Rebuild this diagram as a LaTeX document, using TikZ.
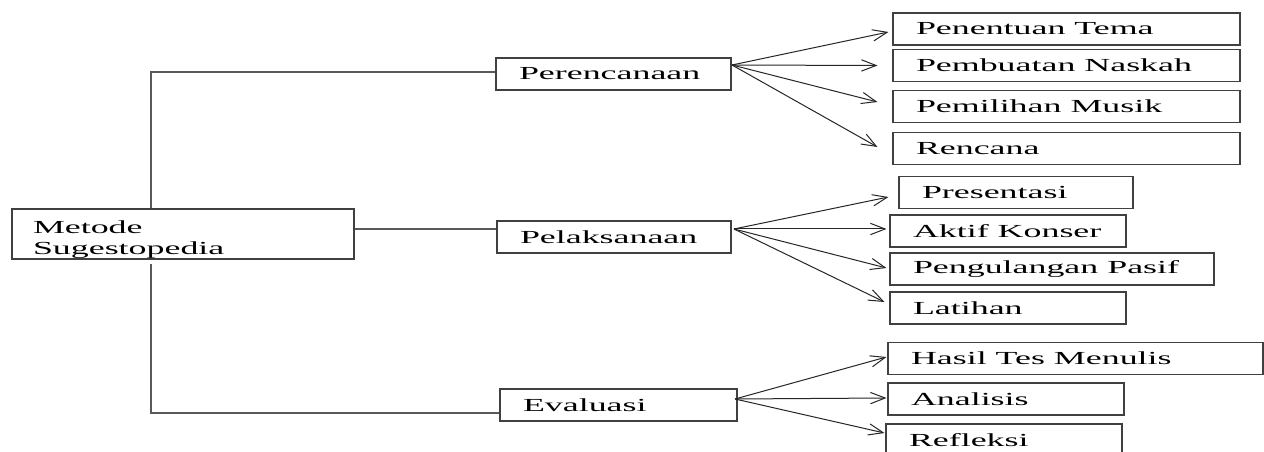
\documentclass[tikz,border=0pt]{standalone}
\usepackage{fontspec}
\setmainfont{Liberation Serif}[FakeStretch=1.95]
\usetikzlibrary{arrows.meta,calc}
\begin{document}
\begin{tikzpicture}[x=0.75pt,y=-0.75pt,
  font=\fontsize{13.8}{15}\selectfont,
  box/.style={draw=black!75, line width=0.8pt, minimum height=24pt,
    inner xsep=17.25pt, inner ysep=0pt, anchor=center},
  conn/.style={draw=black!65, line width=0.8pt},
  arr/.style={draw=black!85, line width=0.75pt, -{Straight Barb[length=11pt,width=8.5pt]}}]
\useasboundingbox (0,0) rectangle (1264,452);
\clip (0,0) rectangle (1264,452);
\fill[white] (0,0) rectangle (1264,452);

% main
\node[box, inner xsep=15.75pt] (met) at (183,234)
  {\parbox[c][37.5pt][t]{225pt}{\vspace*{8.5pt}\baselineskip=16pt Metode\\Sugestopedia}};

% stages
\node[box] (per) at (613.5,74) {\makebox[141.75pt][l]{Perencanaan}};
\node[box] (pel) at (614,237) {\makebox[141pt][l]{Pelaksanaan}};
\node[box] (eva) at (618.5,405) {\makebox[143.25pt][l]{Evaluasi}};

% Perencanaan items
\node[box] (t1) at (1066.5,29) {\makebox[225.75pt][l]{Penentuan Tema}};
\node[box] (t2) at (1066.5,65.5) {\makebox[225.75pt][l]{Pembuatan Naskah}};
\node[box] (t3) at (1066.5,106.5) {\makebox[225.75pt][l]{Pemilihan Musik}};
\node[box] (t4) at (1066.5,148.5) {\makebox[225.75pt][l]{Rencana}};

% Pelaksanaan items
\node[box] (p1) at (1016,192.5) {\makebox[141pt][l]{Presentasi}};
\node[box] (p2) at (1008,231) {\makebox[142.5pt][l]{Aktif Konser}};
\node[box] (p3) at (1052,269) {\makebox[208.5pt][l]{Pengulangan Pasif}};
\node[box] (p4) at (1008,308) {\makebox[142.5pt][l]{Latihan}};

% Evaluasi items
\node[box] (e1) at (1075.5,358.5) {\makebox[246.75pt][l]{Hasil Tes Menulis}};
\node[box] (e2) at (1006,399) {\makebox[142.5pt][l]{Analisis}};
\node[box] (e3) at (1004,440) {\makebox[142.5pt][l]{Refleksi}};

% tree connectors
\coordinate (vt) at (151,72);
\coordinate (vs) at (151,264);
\coordinate (vb) at (151,413);
\coordinate (hm) at (354,229);
\draw[conn] (met.north -| vt) -- (vt) -- (vt -| per.west);
\draw[conn] (vs) -- (vb) -- (vb -| eva.west);
\draw[conn] (hm -| met.east) -- (hm -| pel.west);

% arrow sources
\coordinate (po) at (732,65);
\coordinate (pa) at (734,229);
\coordinate (ea) at (735,399);

\draw[arr] (po) -- ($(t1.west)+(-4,3)$);
\draw[arr] (po) -- ($(t2.west)+(-15,0)$);
\draw[arr] (po) -- ($(t3.west)+(-15,-4.5)$);
\draw[arr] (po) -- ($(t4.west)+(-15,-1.5)$);

\draw[arr] (pa) -- ($(p1.west)+(-10,4.5)$);
\draw[arr] (pa) -- ($(p2.west)+(-3,-2)$);
\draw[arr] (pa) -- ($(p3.west)+(-3,-1)$);
\draw[arr] (pa) -- ($(p4.west)+(-5,-6)$);

\draw[arr] (ea) -- ($(e1.west)+(-1,-1.5)$);
\draw[arr] (ea) -- ($(e2.west)+(-1,-1)$);
\draw[arr] (ea) -- ($(e3.west)+(-1,-7)$);
\end{tikzpicture}
\end{document}
